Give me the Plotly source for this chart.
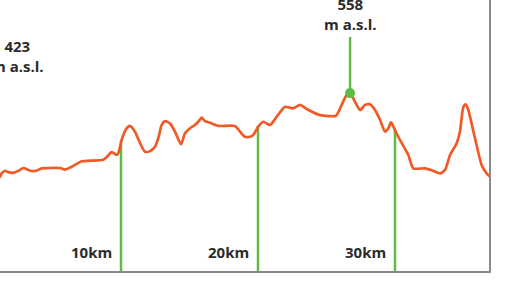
import plotly.graph_objects as go

# Elevation profile (distance in km, elevation in m a.s.l.)
dist_km = [0.88, 1.17, 1.29, 1.53, 1.77, 2.14, 2.50, 2.87, 3.23, 3.60, 3.85, 4.21, 4.69, 5.55, 5.91,
           6.40, 7.13, 7.74, 8.71, 8.96, 9.32, 9.69, 9.80, 10.05, 10.29, 10.53, 10.66, 11.02, 11.39,
           11.75, 12.12, 12.48, 12.72, 12.97, 13.21, 13.58, 13.94, 14.38, 14.67, 15.04, 15.40, 15.64,
           15.89, 16.13, 16.50, 17.10, 18.32, 18.69, 19.05, 19.42, 19.66, 20.02, 20.39, 20.88, 21.37,
           21.97, 22.58, 23.07, 23.55, 24.53, 25.69, 25.99, 26.47, 26.72, 27.08, 27.45, 27.81, 28.18,
           28.54, 28.91, 29.27, 29.51, 29.71, 30.00, 30.36, 30.97, 31.34, 32.19, 32.80, 33.28, 33.65,
           34.02, 34.50, 34.74, 34.99, 35.16, 35.35, 35.84, 36.33, 36.69, 36.93, 37.23]
elev_m = [285, 296, 306, 314, 310, 308, 314, 323, 317, 313, 315, 322, 323, 323, 318,
          327, 344, 346, 349, 357, 373, 364, 369, 411, 439, 453, 455, 437, 401,
          374, 376, 390, 416, 458, 470, 463, 437, 397, 432, 448, 458, 468,
          481, 470, 465, 455, 455, 437, 421, 421, 427, 453, 468, 458, 484,
          515, 510, 521, 508, 489, 487, 510, 552, 558, 531, 505, 521, 523,
          505, 474, 437, 448, 466, 442, 411, 364, 322, 322, 314, 306, 317,
          364, 401, 437, 515, 523, 505, 416, 332, 306, 296, 282]

km_marks = [10, 20, 30]
km_mark_elev = [409, 455, 442]
km_labels = ["10km", "20km", "30km"]

peak_km = 26.72
peak_elev = 558
peak_label = "558<br>m a.s.l."
start_label = "423<br>m a.s.l."
start_label_km = 2.45

orange = "#F15A24"
green = "#5DBB46"
text_col = "#2b2b2b"
font_fam = "Open Sans, Noto Sans, sans-serif"

fig = go.Figure()

# km marker vertical lines
vx, vy = [], []
for k, e in zip(km_marks, km_mark_elev):
    vx += [k, k, None]
    vy += [0, e, None]
fig.add_trace(go.Scatter(x=vx, y=vy, mode="lines", line=dict(color=green, width=2.5),
                         hoverinfo="skip", showlegend=False))

# peak stem
fig.add_trace(go.Scatter(x=[peak_km, peak_km], y=[peak_elev, 734], mode="lines",
                         line=dict(color=green, width=2.5), hoverinfo="skip", showlegend=False))

# profile
fig.add_trace(go.Scatter(x=dist_km, y=elev_m, mode="lines",
                         line=dict(color=orange, width=2.7, shape="spline", smoothing=0.6),
                         showlegend=False))

# peak marker
fig.add_trace(go.Scatter(x=[peak_km], y=[peak_elev], mode="markers",
                         marker=dict(color=green, size=10), showlegend=False))

for k, lab in zip(km_marks, km_labels):
    fig.add_annotation(x=k, y=0, xref="x", yref="y", text="<b>%s</b>" % lab, showarrow=False,
                       xanchor="right", yanchor="bottom", xshift=-7, yshift=7,
                       font=dict(family=font_fam, size=15, color=text_col))

fig.add_annotation(x=peak_km, y=734, xref="x", yref="y", text="<b>%s</b>" % peak_label.replace("<br>", "</b><br><b>"),
                   showarrow=False, xanchor="center", yanchor="bottom", yshift=1,
                   font=dict(family=font_fam, size=15, color=text_col))
fig.add_annotation(x=start_label_km, y=598, xref="x", yref="y", text="<b>%s</b>" % start_label.replace("<br>", "</b><br><b>"),
                   showarrow=False, xanchor="center", yanchor="bottom", yshift=2,
                   font=dict(family=font_fam, size=15, color=text_col))

fig.update_layout(
    width=528, height=296,
    margin=dict(l=0, r=39, t=0, b=25),
    paper_bgcolor="white", plot_bgcolor="white",
    xaxis=dict(range=[1.168, 36.861], showgrid=False, zeroline=False, showticklabels=False,
               ticks="", showline=True, linecolor="#8a8a8a", linewidth=2),
    yaxis=dict(range=[0, 850], side="right", showgrid=False, zeroline=False, showticklabels=False,
               ticks="", showline=True, linecolor="#8a8a8a", linewidth=2),
)

fig.write_html("out.html", config={"displayModeBar": False})

# remove the browser's default page margin so the chart sits at the window's corner
with open("out.html", "r", encoding="utf-8") as f:
    html = f.read()
html = html.replace("<head>", "<head><style>html,body{margin:0;padding:0;overflow:hidden;}</style>", 1)
with open("out.html", "w", encoding="utf-8") as f:
    f.write(html)
